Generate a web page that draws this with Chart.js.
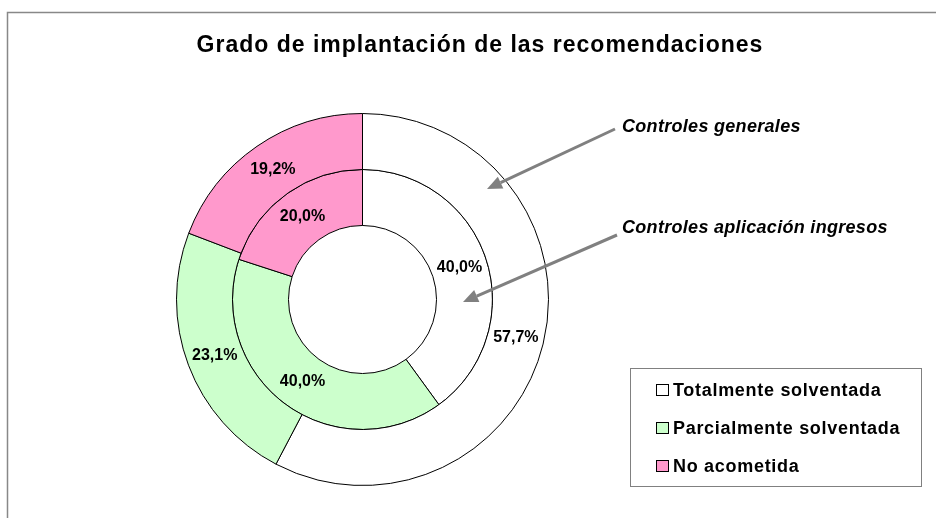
<!DOCTYPE html>
<html>
<head>
<meta charset="utf-8">
<script src="https://cdn.jsdelivr.net/npm/chart.js@4.4.1/dist/chart.umd.min.js"></script>
<style>
  html, body { margin: 0; padding: 0; background: #fff; }
  #wrap { width: 936px; height: 518px; position: relative; }
</style>
</head>
<body>
<div id="wrap"><canvas id="grafico" width="936" height="518"></canvas></div>
<script>
// datos del gráfico
const categorias = ['Totalmente solventada', 'Parcialmente solventada', 'No acometida'];
const series = ['Controles generales', 'Controles aplicación ingresos'];
const generales = [57.7, 23.1, 19.2];
const ingresos = [40.0, 40.0, 20.0];
const colores = ['#FFFFFF', '#CCFFCC', '#FF99CC'];
const titulo = 'Grado de implantación de las recomendaciones';

const FUENTE = '"Liberation Sans", Arial, sans-serif';

// formato 57,7%
function formatoPct(v) {
    return v.toFixed(1).replace('.', ',') + '%';
}

// flecha gris con punta rellena
function flecha(ctx, x1, y1, x2, y2) {
    const ang = Math.atan2(y2 - y1, x2 - x1);
    const largo = 15, ancho = 6.5;
    const bx = x2 - largo * Math.cos(ang);
    const by = y2 - largo * Math.sin(ang);
    ctx.save();
    ctx.strokeStyle = '#808080';
    ctx.fillStyle = '#808080';
    ctx.lineWidth = 3;
    ctx.beginPath();
    ctx.moveTo(x1, y1);
    ctx.lineTo(bx, by);
    ctx.stroke();
    ctx.beginPath();
    ctx.moveTo(x2, y2);
    ctx.lineTo(bx + ancho * Math.sin(ang), by - ancho * Math.cos(ang));
    ctx.lineTo(bx - ancho * Math.sin(ang), by + ancho * Math.cos(ang));
    ctx.closePath();
    ctx.fill();
    ctx.restore();
}

// etiquetas, título, flechas y leyenda
const adornos = {
    id: 'adornos',
    afterDatasetsDraw(chart) {
        const ctx = chart.ctx;
        ctx.save();
        ctx.font = 'bold 16px ' + FUENTE;
        ctx.fillStyle = '#000';
        ctx.textAlign = 'center';
        ctx.textBaseline = 'middle';
        chart.data.datasets.forEach((ds, i) => {
            chart.getDatasetMeta(i).data.forEach((arc, j) => {
                const p = arc.getCenterPoint();
                ctx.fillText(formatoPct(ds.data[j]), p.x, p.y);
            });
        });
        ctx.restore();
    },
    afterDraw(chart) {
        const ctx = chart.ctx;
        ctx.save();

        // marco exterior
        ctx.strokeStyle = '#888';
        ctx.lineWidth = 1.5;
        ctx.strokeRect(7.5, 12.5, 960, 540);

        // título
        ctx.fillStyle = '#000';
        ctx.textAlign = 'center';
        ctx.textBaseline = 'alphabetic';
        ctx.font = 'bold 23px ' + FUENTE;
        ctx.letterSpacing = '1px';
        ctx.fillText(titulo, 480, 52);

        // nombres de las series
        ctx.textAlign = 'left';
        ctx.font = 'italic bold 18px ' + FUENTE;
        ctx.letterSpacing = '0.3px';
        ctx.fillText(series[0], 622, 132);
        ctx.fillText(series[1], 622, 233);
        flecha(ctx, 615, 129, 487, 189);
        flecha(ctx, 617, 235, 463, 302);

        // leyenda
        ctx.strokeStyle = '#808080';
        ctx.lineWidth = 1;
        ctx.fillStyle = '#fff';
        ctx.fillRect(630.5, 368.5, 291, 118);
        ctx.strokeRect(630.5, 368.5, 291, 118);
        ctx.font = 'bold 18px ' + FUENTE;
        ctx.letterSpacing = '0.7px';
        const bases = [396, 434, 472];
        categorias.forEach((c, i) => {
            const y = bases[i];
            ctx.fillStyle = colores[i];
            ctx.fillRect(656.5, y - 11.5, 12, 11);
            ctx.strokeStyle = '#000';
            ctx.strokeRect(656.5, y - 11.5, 12, 11);
            ctx.fillStyle = '#000';
            ctx.fillText(c, 673, y);
        });
        ctx.restore();
    }
};

new Chart(document.getElementById('grafico'), {
    type: 'doughnut',
    data: {
        labels: categorias,
        datasets: [
            { label: series[0], data: generales, backgroundColor: colores, borderColor: '#000', borderWidth: 1 },
            { label: series[1], data: ingresos, backgroundColor: colores, borderColor: '#000', borderWidth: 1 }
        ]
    },
    options: {
        responsive: false,
        animation: false,
        devicePixelRatio: 1,
        cutout: '39.8%',
        layout: { padding: { left: 176, top: 113, right: 387, bottom: 32 } },
        plugins: {
            legend: { display: false },
            title: { display: false },
            tooltip: { enabled: false }
        }
    },
    plugins: [adornos]
});
</script>
</body>
</html>
